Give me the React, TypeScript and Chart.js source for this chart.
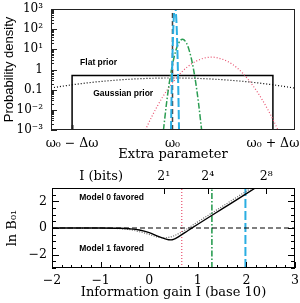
import { useEffect, useRef } from "react";
import { Chart, registerables } from "chart.js";

Chart.register(...registerables);

// ---------- upper panel: densities over the extra parameter (ω0 = 0, Δω = 1) ----------
const paramTickValues = [-1, 0, 1];
const paramTickLabels = ["ω₀ − Δω", "ω₀", "ω₀ + Δω"];
const densityTickValues = [1e-3, 1e-2, 0.1, 1, 10, 100, 1000];
const densityTickLabels = ["10⁻³", "10⁻²", "0.1", "1", "10¹", "10²", "10³"];

const flatPriorX = [-1, -1, 1, 1];
const flatPriorY = [0.001, 0.5, 0.5, 0.001];

const gaussPriorX = [-1.21, -1.0, -0.8, -0.6, -0.4, -0.2, 0, 0.2, 0.4, 0.6, 0.8, 1.0, 1.22];
const gaussPriorY = [0.122, 0.174, 0.231, 0.287, 0.335, 0.368, 0.38, 0.368, 0.335, 0.287, 0.231, 0.174, 0.119];

const wideX = [-0.27, -0.2, -0.1, 0, 0.1, 0.2, 0.3, 0.39, 0.5, 0.6, 0.7, 0.8, 0.9, 1.0, 1.05];
const wideY = [0.001, 0.0053, 0.042, 0.22, 0.82, 2.05, 3.5, 4.1, 3.2, 1.75, 0.65, 0.16, 0.028, 0.0034, 0.001];

const mediumX = [-0.09, -0.06, -0.03, 0, 0.03, 0.06, 0.1, 0.14, 0.17, 0.2, 0.23, 0.26, 0.29];
const mediumY = [0.001, 0.02, 0.25, 1.8, 7.7, 20, 32, 20, 7.7, 1.8, 0.25, 0.02, 0.001];

const narrowX = [-0.015, -0.008, 0.002, 0.012, 0.025, 0.038, 0.048, 0.058, 0.065];
const narrowY = [0.001, 0.09, 13, 310, 1380, 310, 13, 0.09, 0.001];

const omegaLineX = [0, 0];
const omegaLineY = [0.001, 1000];

// ---------- lower panel: ln B01 against information gain ----------
const gainTickValues = [-2, -1, 0, 1, 2, 3];
const gainTickLabels = ["−2", "−1", "0", "1", "2", "3"];
const lnBTickValues = [-2, 0, 2];
const lnBTickLabels = ["−2", "0", "2"];
const bitsTickValues = [Math.log10(2), Math.log10(16), Math.log10(256)];
const bitsTickLabels = ["2¹", "2⁴", "2⁸"];

const lnBSolidX = [-2, -1.5, -1, -0.6, -0.4, -0.2, 0, 0.1, 0.2, 0.3, 0.4, 0.45, 0.5, 0.6, 0.8, 1.0, 1.5, 2.0, 2.25];
const lnBSolidY = [0, 0, 0, -0.02, -0.06, -0.15, -0.35, -0.5, -0.65, -0.78, -0.88, -0.89, -0.85, -0.66, -0.19, 0.28, 1.43, 2.58, 3.15];

const lnBDotX = [-2, -1, -0.6, -0.4, -0.2, 0, 0.1, 0.2, 0.3, 0.4, 0.5, 0.7, 1.0, 1.5, 2.0, 2.2];
const lnBDotY = [0, -0.01, -0.05, -0.12, -0.28, -0.48, -0.6, -0.7, -0.74, -0.7, -0.6, -0.23, 0.46, 1.61, 2.76, 3.2];

const zeroLineX = [-2, 3];
const zeroLineY = [0, 0];

const gainMarkers = [0.67, 1.29, 1.98];

// ---------- styling ----------
const SERIF = "'DejaVu Serif', 'Liberation Serif', serif";
const SANS = "'Liberation Sans', Arial, sans-serif";
const RED = "#e8506e";
const GREEN = "#2a9d52";
const BLUE = "#2aaee2";

const pts = (xs: number[], ys: number[]) => xs.map((x, i) => ({ x, y: ys[i] }));

const labelFrom = (values: number[], labels: string[], log = false) => (v: any) => {
  const n = Number(v);
  const i = values.findIndex((t) =>
    log ? Math.abs(Math.log10(t) - Math.log10(n)) < 1e-6 : Math.abs(t - n) < 1e-6
  );
  return i >= 0 ? labels[i] : "";
};

const line = (data: { x: number; y: number }[], color: string, width: number, dash: number[], smooth = true) => ({
  data,
  borderColor: color,
  borderWidth: width,
  borderDash: dash,
  pointRadius: 0,
  fill: false,
  tension: smooth ? 0.4 : 0,
  cubicInterpolationMode: smooth ? ("monotone" as const) : ("default" as const),
});

type TickSet = { scale: string; side: "left" | "right" | "top" | "bottom"; values: number[]; len: number; width?: number };
type Note = { text: string; x: number; y: number; font: string; pixelTop?: number; align?: CanvasTextAlign };

// Frame, inward tick marks and in-panel notes
const decor = (ticks: TickSet[], notes: Note[], frameColor: string) => ({
  id: "panelDecor",
  afterDraw(chart: any) {
    const { ctx, chartArea: a, scales } = chart;
    ctx.save();
    ctx.strokeStyle = frameColor;
    for (const t of ticks) {
      const s = scales[t.scale];
      ctx.lineWidth = t.width ?? 1;
      ctx.beginPath();
      for (const v of t.values) {
        const p = Math.round(s.getPixelForValue(v)) + 0.5;
        if (t.side === "left") { ctx.moveTo(a.left, p); ctx.lineTo(a.left + t.len, p); }
        if (t.side === "right") { ctx.moveTo(a.right, p); ctx.lineTo(a.right - t.len, p); }
        if (t.side === "top") { ctx.moveTo(p, a.top); ctx.lineTo(p, a.top + t.len); }
        if (t.side === "bottom") { ctx.moveTo(p, a.bottom); ctx.lineTo(p, a.bottom - t.len); }
      }
      ctx.stroke();
    }
    ctx.lineWidth = 1;
    ctx.strokeRect(Math.round(a.left) + 0.5, Math.round(a.top) + 0.5, Math.round(a.width) - 1, Math.round(a.height) - 1);
    ctx.fillStyle = "#000";
    ctx.textBaseline = "middle";
    for (const n of notes) {
      ctx.font = n.font;
      ctx.textAlign = n.align ?? "left";
      const px = scales.x.getPixelForValue(n.x);
      const py = n.pixelTop !== undefined ? a.top + n.pixelTop : scales.y.getPixelForValue(n.y);
      ctx.fillText(n.text, px, py);
    }
    ctx.restore();
  },
});

const fixSize = (prop: "width" | "height", size: number) => (s: any) => {
  s[prop] = size;
  s.paddingLeft = 0;
  s.paddingRight = 0;
  s.paddingTop = 0;
  s.paddingBottom = 0;
};

function densityConfig(): any {
  const minor: number[] = [];
  const major: number[] = [];
  for (let d = -3; d <= 2; d++) {
    major.push(Math.pow(10, d));
    for (let k = 2; k <= 9; k++) minor.push(k * Math.pow(10, d));
  }
  return {
    type: "line",
    data: {
      datasets: [
        line(pts(narrowX, narrowY), BLUE, 2, [9, 3]),
        line(pts(omegaLineX, omegaLineY), "#444", 1.5, [5, 3], false),
        line(pts(mediumX, mediumY), GREEN, 1.5, [6, 2, 1.5, 2]),
        line(pts(wideX, wideY), RED, 1.2, [1, 2]),
        line(pts(gaussPriorX, gaussPriorY), "#000", 1.2, [1, 2]),
        line(pts(flatPriorX, flatPriorY), "#000", 1.5, [], false),
      ],
    },
    options: {
      animation: false,
      responsive: false,
      maintainAspectRatio: false,
      events: [],
      layout: { padding: { left: 0, right: 5, top: 9, bottom: 0 } },
      plugins: { legend: { display: false }, tooltip: { enabled: false } },
      scales: {
        x: {
          type: "linear",
          min: -1.21,
          max: 1.22,
          grid: { display: false, drawTicks: false },
          border: { display: false },
          afterBuildTicks: (s: any) => { s.ticks = paramTickValues.map((value) => ({ value })); },
          afterFit: fixSize("height", 32),
          ticks: {
            callback: labelFrom(paramTickValues, paramTickLabels),
            font: { family: SERIF, size: 12.5 },
            color: "#000",
            padding: 6,
            maxRotation: 0,
            minRotation: 0,
            autoSkip: false,
          },
          title: { display: true, text: "Extra parameter", font: { family: SERIF, size: 13 }, color: "#000", padding: 0 },
        },
        y: {
          type: "logarithmic",
          min: 1e-3,
          max: 1e3,
          grid: { display: false, drawTicks: false },
          border: { display: false },
          afterBuildTicks: (s: any) => { s.ticks = densityTickValues.map((value) => ({ value })); },
          afterFit: fixSize("width", 51),
          ticks: {
            callback: labelFrom(densityTickValues, densityTickLabels, true),
            font: { family: SERIF, size: 12 },
            color: "#000",
            padding: 8,
            autoSkip: false,
          },
          title: { display: true, text: "Probability density", font: { family: SANS, size: 13 }, color: "#000", padding: { top: 2, bottom: 0 } },
        },
      },
    },
    plugins: [
      decor(
        [
          { scale: "y", side: "left", values: major, len: 6 },
          { scale: "y", side: "left", values: minor, len: 3 },
          { scale: "x", side: "bottom", values: [-1], len: 5, width: 2 },
        ],
        [
          { text: "Flat prior", x: -0.92, y: 2.07, font: `bold 8.5px ${SANS}` },
          { text: "Gaussian prior", x: -0.79, y: 0.06, font: `bold 8.5px ${SANS}` },
        ],
        "#222"
      ),
    ],
  };
}

function evidenceConfig(): any {
  const yMinor: number[] = [];
  for (let v = -3; v <= 3.001; v += 0.5) yMinor.push(Math.round(v * 10) / 10);
  const xMinor: number[] = [];
  for (let v = -2; v <= 3.001; v += 0.2) xMinor.push(Math.round(v * 10) / 10);
  const vertical = (x: number) => pts([x, x], [-3, 3]);
  return {
    type: "line",
    data: {
      datasets: [
        line(pts(lnBSolidX, lnBSolidY), "#000", 1.4, []),
        line(pts(lnBDotX, lnBDotY), "#666", 1.2, [1, 1.5]),
        line(pts(zeroLineX, zeroLineY), "#000", 1.2, [5, 3], false),
        line(vertical(gainMarkers[0]), RED, 1.2, [1, 2], false),
        line(vertical(gainMarkers[1]), GREEN, 1.6, [6, 2, 1.5, 2], false),
        line(vertical(gainMarkers[2]), BLUE, 2, [9, 3], false),
      ],
    },
    options: {
      animation: false,
      responsive: false,
      maintainAspectRatio: false,
      events: [],
      layout: { padding: { left: 0, right: 5, top: 0, bottom: 0 } },
      plugins: { legend: { display: false }, tooltip: { enabled: false } },
      scales: {
        x: {
          type: "linear",
          position: "bottom",
          min: -2,
          max: 3,
          grid: { display: false, drawTicks: false },
          border: { display: false },
          afterBuildTicks: (s: any) => { s.ticks = gainTickValues.map((value) => ({ value })); },
          afterFit: fixSize("height", 35),
          ticks: {
            callback: labelFrom(gainTickValues, gainTickLabels),
            font: { family: SERIF, size: 12.5 },
            color: "#000",
            padding: 5,
            maxRotation: 0,
            minRotation: 0,
            autoSkip: false,
          },
          title: { display: true, text: "Information gain I (base 10)", font: { family: SERIF, size: 13 }, color: "#000", padding: { top: 0, bottom: 3 } },
        },
        bits: {
          type: "linear",
          position: "top",
          min: -2,
          max: 3,
          grid: { display: false, drawTicks: false },
          border: { display: false },
          afterBuildTicks: (s: any) => { s.ticks = bitsTickValues.map((value) => ({ value })); },
          afterFit: fixSize("height", 26),
          ticks: {
            callback: labelFrom(bitsTickValues, bitsTickLabels),
            font: { family: SERIF, size: 12.5 },
            color: "#000",
            padding: 4,
            maxRotation: 0,
            minRotation: 0,
            autoSkip: false,
          },
        },
        y: {
          type: "linear",
          min: -3,
          max: 3,
          grid: { display: false, drawTicks: false },
          border: { display: false },
          afterBuildTicks: (s: any) => { s.ticks = lnBTickValues.map((value) => ({ value })); },
          afterFit: fixSize("width", 52),
          ticks: {
            callback: labelFrom(lnBTickValues, lnBTickLabels),
            font: { family: SERIF, size: 12.5 },
            color: "#000",
            padding: 5,
            autoSkip: false,
          },
          title: { display: true, text: "ln B₀₁", font: { family: SERIF, size: 13 }, color: "#000", padding: { top: 5, bottom: 0 } },
        },
      },
    },
    plugins: [
      decor(
        [
          { scale: "y", side: "left", values: yMinor, len: 4 },
          { scale: "y", side: "left", values: lnBTickValues, len: 7 },
          { scale: "y", side: "right", values: yMinor, len: 4 },
          { scale: "y", side: "right", values: lnBTickValues, len: 7 },
          { scale: "x", side: "bottom", values: xMinor, len: 3 },
          { scale: "x", side: "bottom", values: gainTickValues, len: 6 },
          { scale: "bits", side: "top", values: bitsTickValues, len: 6 },
        ],
        [
          { text: "Model 0 favored", x: -1.44, y: 2.3, font: `bold 8.5px ${SANS}` },
          { text: "Model 1 favored", x: -1.44, y: -1.55, font: `bold 8.5px ${SANS}` },
          { text: "I (bits)", x: -1.44, y: 0, pixelTop: -11, font: `13px ${SERIF}` },
        ],
        "#000"
      ),
    ],
  };
}

export default function App() {
  const topRef = useRef<HTMLCanvasElement>(null);
  const bottomRef = useRef<HTMLCanvasElement>(null);

  useEffect(() => {
    const density = new Chart(topRef.current!, densityConfig());
    const evidence = new Chart(bottomRef.current!, evidenceConfig());
    return () => {
      density.destroy();
      evidence.destroy();
    };
  }, []);

  return (
    <div style={{ position: "absolute", left: 0, top: 0, width: 300, height: 303, background: "#fff" }}>
      <canvas
        ref={topRef}
        width={300}
        height={162}
        style={{ position: "absolute", left: 0, top: 0, width: 300, height: 162 }}
      />
      <canvas
        ref={bottomRef}
        width={300}
        height={141}
        style={{ position: "absolute", left: 0, top: 162, width: 300, height: 141 }}
      />
    </div>
  );
}
